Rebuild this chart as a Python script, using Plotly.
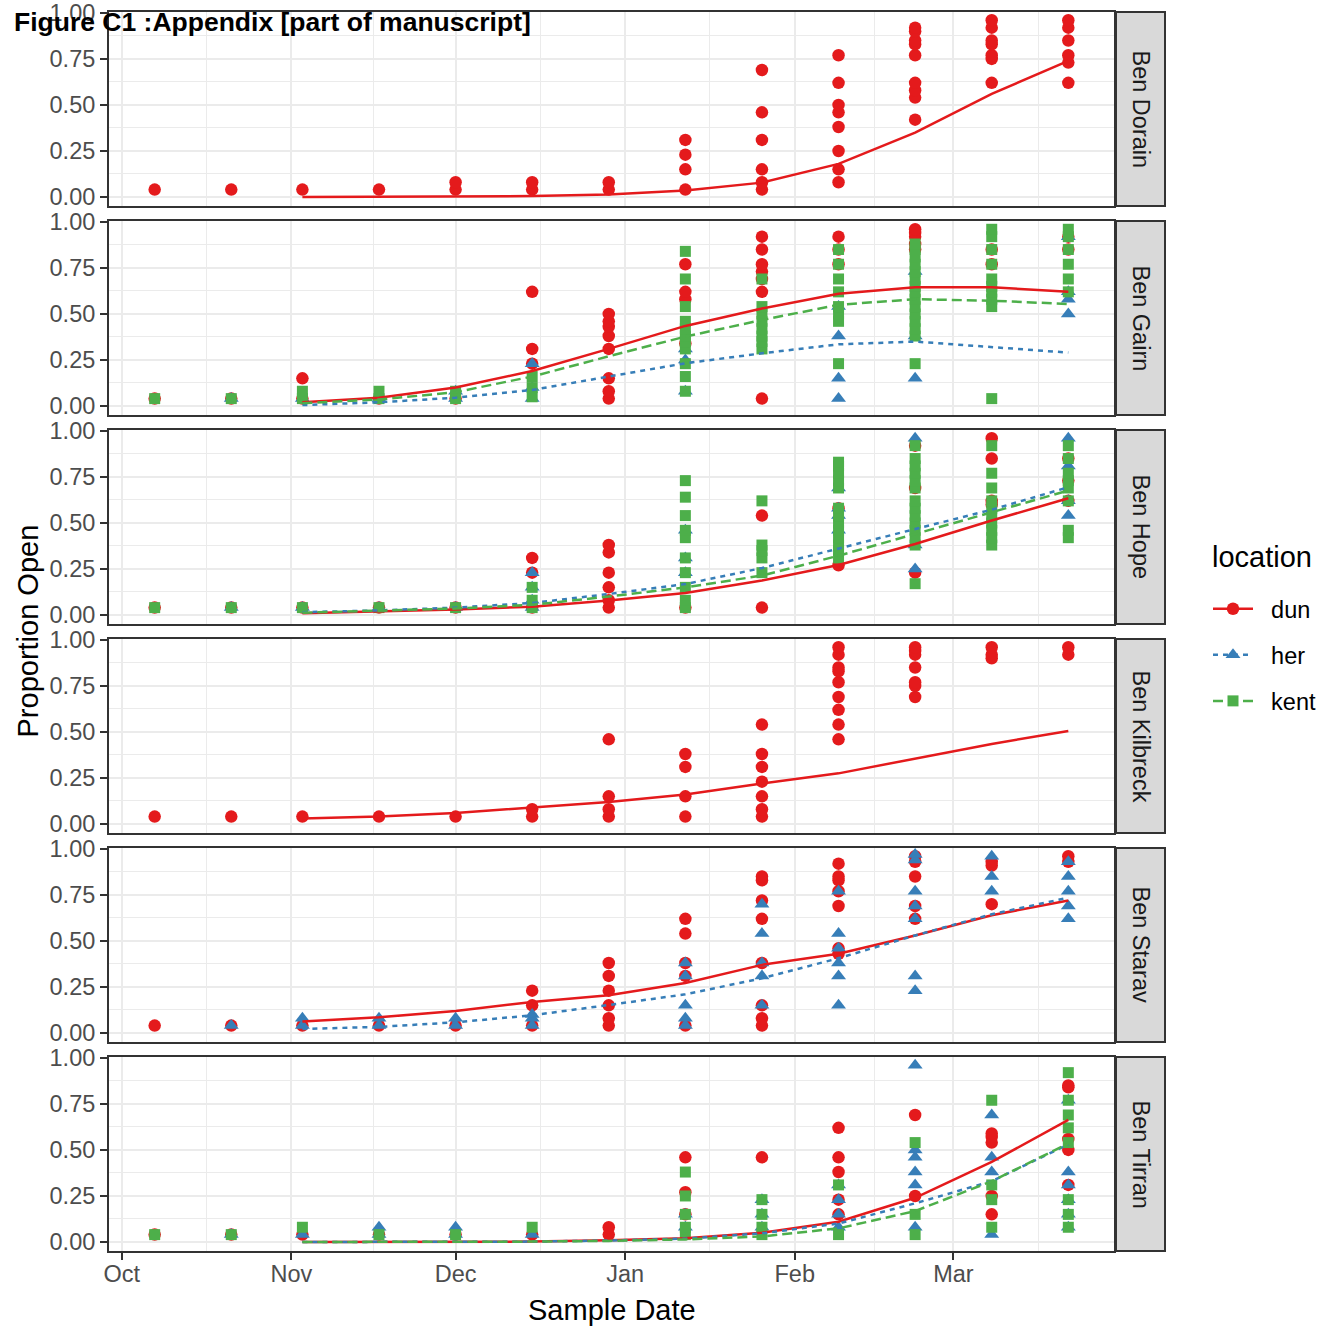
import pandas as pd
import plotly.graph_objects as go
from plotly.subplots import make_subplots

# ---------------- data ----------------
sample_dates = ["2015-10-07", "2015-10-21", "2015-11-03", "2015-11-17", "2015-12-01",
                "2015-12-15", "2015-12-29", "2016-01-12", "2016-01-26", "2016-02-09",
                "2016-02-23", "2016-03-08", "2016-03-22"]
fit_dates = sample_dates[2:]

panels = ["Ben Dorain", "Ben Gairn", "Ben Hope", "Ben Kilbreck", "Ben Starav", "Ben Tirran"]
locations = ["dun", "her", "kent"]

month_ticks = ["2015-10-01", "2015-11-01", "2015-12-01", "2016-01-01", "2016-02-01", "2016-03-01"]
month_labels = ["Oct", "Nov", "Dec", "Jan", "Feb", "Mar"]
y_ticks = [0, 0.25, 0.5, 0.75, 1.0]
y_tick_labels = ["0.00", "0.25", "0.50", "0.75", "1.00"]

# observed proportions, one list per sample date
dorain_dun = [[.04], [.04], [.04], [.04], [.04, .08], [.04, .08], [.04, .08], [.04, .15, .23, .31],
              [.04, .08, .15, .31, .46, .69], [.08, .15, .25, .38, .46, .50, .62, .77],
              [.42, .54, .58, .62, .77, .83, .85, .90, .92], [.62, .75, .77, .83, .85, .92, .96],
              [.62, .73, .77, .85, .92, .96]]

gairn_dun = [[.04], [.04], [.04, .15], [.04], [.04], [.23, .31, .62], [.04, .08, .15, .31, .38, .43, .46, .50],
             [.34, .58, .62, .77], [.04, .62, .69, .73, .77, .85, .92], [.77, .85, .92],
             [.85, .88, .92, .94, .96], [.77, .85], [.85, .92]]
gairn_her = [[], [.04], [.04], [.04], [.04, .08], [.04, .10, .23], [], [.08, .25, .31], [],
             [.04, .15, .38, .54], [.15, .38, .73], [], [.50, .58, .62, .92]]
gairn_kent = [[.04], [.04], [.04, .08], [.04, .08], [.04, .08], [.05, .10, .16], [],
              [.08, .16, .23, .31, .35, .38, .42, .46, .54, .69, .84],
              [.31, .35, .38, .42, .46, .50, .54, .69],
              [.23, .46, .50, .54, .62, .69, .77, .85],
              [.23, .38, .42, .46, .50, .54, .58, .62, .65, .69, .73, .77, .81, .85, .88],
              [.04, .54, .58, .62, .65, .69, .77, .85, .92, .96],
              [.62, .69, .77, .85, .92, .96]]

hope_dun = [[.04], [.04], [.04], [.04], [.04], [.04, .23, .31], [.04, .08, .15, .23, .34, .38], [.04],
            [.04, .54], [.27, .58], [.23, .69, .92], [.60, .62, .85, .96], [.62, .73, .85]]
hope_her = [[], [.04], [.04], [.04], [.04], [.04, .08, .15, .23], [], [.23, .31, .46], [],
            [.46, .54, .58, .69], [.25, .38, .96], [], [.54, .62, .81, .96]]
hope_kent = [[.04], [.04], [.04], [.04], [.04], [.04, .08, .15], [],
             [.04, .08, .15, .23, .31, .42, .46, .54, .64, .73],
             [.23, .31, .35, .38, .62],
             [.31, .35, .38, .42, .46, .50, .54, .58, .69, .73, .77, .81, .83],
             [.17, .38, .42, .46, .50, .54, .58, .62, .69, .73, .77, .81, .85, .92],
             [.38, .42, .46, .50, .54, .58, .62, .69, .77, .92],
             [.42, .46, .62, .69, .73, .77, .85, .92]]

kilbreck_dun = [[.04], [.04], [.04], [.04], [.04], [.04, .08], [.04, .08, .15, .46], [.04, .15, .31, .38],
                [.04, .08, .15, .23, .31, .38, .54], [.46, .54, .62, .69, .77, .83, .85, .92, .96],
                [.69, .75, .77, .85, .92, .94, .96], [.90, .92, .96], [.92, .96]]

starav_dun = [[.04], [.04], [.04], [.04], [.04], [.04, .15, .23], [.04, .08, .15, .23, .31, .38],
              [.04, .31, .38, .54, .62], [.04, .08, .15, .38, .62, .72, .83, .85],
              [.43, .46, .69, .77, .83, .85, .92], [.62, .69, .85, .93, .96], [.70, .91, .93], [.93, .96]]
starav_her = [[], [.04], [.04, .08], [.04, .08], [.04, .08], [.04, .08, .10], [],
              [.04, .08, .15, .31, .38], [.15, .31, .38, .54, .70], [.15, .31, .38, .46, .54, .77],
              [.23, .31, .62, .69, .77, .94, .97], [.77, .85, .96], [.62, .69, .77, .85, .93]]

tirran_dun = [[.04], [.04], [.04], [.04], [.04], [.04], [.04, .08], [.15, .27, .46], [.46],
              [.15, .23, .38, .46, .62], [.25, .69], [.15, .25, .54, .57, .59], [.31, .50, .56, .84, .85]]
tirran_her = [[], [.04], [.04], [.04, .08], [.04, .08], [.04], [], [.08, .15], [.08, .15, .23],
              [.08, .15, .23, .31], [.08, .31, .38, .46, .50, .96], [.04, .38, .46, .69],
              [.08, .15, .23, .31, .38, .77]]
tirran_kent = [[.04], [.04], [.08], [.04], [.04], [.08], [], [.04, .08, .15, .25, .38], [.04, .08, .15, .23],
               [.04, .31], [.04, .15, .54], [.08, .23, .31, .77], [.08, .15, .23, .54, .62, .69, .77, .92]]

# fitted curves (from 3 Nov onwards)
fit_dorain_dun = [0.0, 0.001, 0.002, 0.005, 0.013, 0.035, 0.078, 0.18, 0.35, 0.56, 0.74]
fit_gairn_dun = [0.02, 0.045, 0.10, 0.19, 0.31, 0.435, 0.53, 0.61, 0.645, 0.645, 0.62]
fit_gairn_her = [0.005, 0.02, 0.045, 0.087, 0.16, 0.232, 0.286, 0.335, 0.35, 0.322, 0.29]
fit_gairn_kent = [0.015, 0.035, 0.075, 0.16, 0.27, 0.377, 0.467, 0.55, 0.58, 0.572, 0.554]
fit_hope_dun = [0.01, 0.02, 0.03, 0.045, 0.078, 0.12, 0.187, 0.272, 0.386, 0.513, 0.634]
fit_hope_her = [0.015, 0.025, 0.04, 0.065, 0.114, 0.168, 0.255, 0.359, 0.467, 0.572, 0.694]
fit_hope_kent = [0.012, 0.022, 0.035, 0.055, 0.10, 0.15, 0.214, 0.322, 0.44, 0.558, 0.676]
fit_kilbreck_dun = [0.03, 0.04, 0.06, 0.09, 0.12, 0.16, 0.22, 0.275, 0.355, 0.435, 0.505]
fit_starav_dun = [0.063, 0.085, 0.12, 0.168, 0.205, 0.272, 0.37, 0.43, 0.53, 0.64, 0.72]
fit_starav_her = [0.022, 0.033, 0.058, 0.096, 0.152, 0.21, 0.297, 0.406, 0.53, 0.645, 0.735]
fit_tirran_dun = [0.0, 0.0, 0.001, 0.002, 0.01, 0.02, 0.05, 0.11, 0.24, 0.435, 0.663]
fit_tirran_her = [0.0, 0.0, 0.001, 0.002, 0.008, 0.018, 0.047, 0.10, 0.21, 0.33, 0.53]
fit_tirran_kent = [0.0, 0.0, 0.001, 0.002, 0.006, 0.014, 0.03, 0.074, 0.168, 0.33, 0.535]

points = {
    "Ben Dorain": {"dun": dorain_dun},
    "Ben Gairn": {"dun": gairn_dun, "her": gairn_her, "kent": gairn_kent},
    "Ben Hope": {"dun": hope_dun, "her": hope_her, "kent": hope_kent},
    "Ben Kilbreck": {"dun": kilbreck_dun},
    "Ben Starav": {"dun": starav_dun, "her": starav_her},
    "Ben Tirran": {"dun": tirran_dun, "her": tirran_her, "kent": tirran_kent},
}
fits = {
    "Ben Dorain": {"dun": fit_dorain_dun},
    "Ben Gairn": {"dun": fit_gairn_dun, "her": fit_gairn_her, "kent": fit_gairn_kent},
    "Ben Hope": {"dun": fit_hope_dun, "her": fit_hope_her, "kent": fit_hope_kent},
    "Ben Kilbreck": {"dun": fit_kilbreck_dun},
    "Ben Starav": {"dun": fit_starav_dun, "her": fit_starav_her},
    "Ben Tirran": {"dun": fit_tirran_dun, "her": fit_tirran_her, "kent": fit_tirran_kent},
}

# ---------------- style ----------------
FONT = "Liberation Sans, Arial, Helvetica, sans-serif"
COLORS = {"dun": "#E41A1C", "her": "#377EB8", "kent": "#4DAF4A"}
SYMBOLS = {"dun": "circle", "her": "triangle-up", "kent": "square"}
MSIZE = {"dun": 12.5, "her": 13, "kent": 11}
DASH = {"dun": "solid", "her": "5px,5px", "kent": "10px,5px"}
LW = 2.5

W, H = 1340, 1329
PL, PR, PT, PB = 109, 1114, 12, 1251
PANEL_H, STEP = 194, 209
pw, ph = PR - PL, PB - PT

fig = make_subplots(rows=6, cols=1, shared_xaxes=True, vertical_spacing=0.01)

for i, p in enumerate(panels):
    row = i + 1
    for loc in locations:
        if loc not in points[p]:
            continue
        xs, ys = [], []
        for d, vals in zip(sample_dates, points[p][loc]):
            for v in vals:
                xs.append(d)
                ys.append(v)
        fig.add_trace(go.Scatter(x=xs, y=ys, mode="markers", showlegend=False, hoverinfo="skip",
                                 marker=dict(symbol=SYMBOLS[loc], size=MSIZE[loc], color=COLORS[loc],
                                             line=dict(width=0))), row=row, col=1)
    for loc in locations:
        if loc not in fits[p]:
            continue
        fig.add_trace(go.Scatter(x=fit_dates, y=fits[p][loc], mode="lines", showlegend=False,
                                 hoverinfo="skip",
                                 line=dict(color=COLORS[loc], width=LW, dash=DASH[loc])), row=row, col=1)

# legend entries
for loc in locations:
    fig.add_trace(go.Scatter(x=[None], y=[None], mode="lines+markers", name="\u00a0\u00a0" + loc,
                             legendgroup=loc,
                             marker=dict(symbol=SYMBOLS[loc], size=MSIZE[loc], color=COLORS[loc]),
                             line=dict(color=COLORS[loc], width=LW, dash=DASH[loc])), row=1, col=1)

# x range (ggplot 5% expansion)
d0 = pd.Timestamp(sample_dates[0])
d1 = pd.Timestamp(sample_dates[-1])
span = (d1 - d0) * 0.05
xr = [(d0 - span).strftime("%Y-%m-%d %H:%M:%S"), (d1 + span).strftime("%Y-%m-%d %H:%M:%S")]
mt = pd.to_datetime(month_ticks)
minor_x = [(mt[k] + (mt[k + 1] - mt[k]) / 2).strftime("%Y-%m-%d %H:%M:%S") for k in range(len(mt) - 1)]
minor_x.append((mt[-1] + (pd.Timestamp("2016-04-01") - mt[-1]) / 2).strftime("%Y-%m-%d %H:%M:%S"))

shapes, annotations = [], []
for i, p in enumerate(panels):
    top = PT + STEP * i
    y0 = (PB - (top + PANEL_H)) / ph
    y1 = (PB - top) / ph
    sfx = "" if i == 0 else str(i + 1)
    last = i == len(panels) - 1
    fig.layout["yaxis" + sfx].update(
        domain=[y0, y1], range=[-0.049, 1.005], tickvals=y_ticks, ticktext=y_tick_labels,
        showgrid=True, gridcolor="#EBEBEB", gridwidth=2, zeroline=False, automargin=False,
        minor=dict(tickvals=[0.125, 0.375, 0.625, 0.875], showgrid=True, gridcolor="#EBEBEB", gridwidth=1),
        showline=True, mirror=True, linecolor="#333333", linewidth=2,
        ticks="outside", ticklen=7, tickwidth=2, tickcolor="#333333",
        tickfont=dict(family=FONT, size=23.5, color="#4D4D4D"))
    fig.layout["xaxis" + sfx].update(
        type="date", range=xr, tickvals=month_ticks, ticktext=month_labels,
        showgrid=True, gridcolor="#EBEBEB", gridwidth=2, zeroline=False, automargin=False,
        minor=dict(tickvals=minor_x, showgrid=True, gridcolor="#EBEBEB", gridwidth=1),
        showline=True, mirror=True, linecolor="#333333", linewidth=2,
        ticks="outside" if last else "", ticklen=7, tickwidth=2, tickcolor="#333333",
        showticklabels=last, ticklabelstandoff=-6,
        tickfont=dict(family=FONT, size=23.5, color="#4D4D4D"))
    # facet strip
    shapes.append(dict(type="rect", xref="paper", yref="paper",
                       x0=(1116 - PL) / pw, x1=(1165 - PL) / pw, y0=y0, y1=y1,
                       fillcolor="#D9D9D9", line=dict(color="#333333", width=2), layer="above"))
    annotations.append(dict(text=p, xref="paper", yref="paper", x=(1140.5 - PL) / pw, y=(y0 + y1) / 2,
                            textangle=90, showarrow=False, xanchor="center", yanchor="middle",
                            font=dict(family=FONT, size=23.5, color="#1A1A1A")))

annotations.append(dict(text="Proportion Open", xref="paper", yref="paper", x=(27 - PL) / pw, y=0.5,
                        textangle=-90, showarrow=False, xanchor="center", yanchor="middle",
                        font=dict(family=FONT, size=29, color="#000000")))
annotations.append(dict(text="Sample Date", xref="paper", yref="paper", x=0.5, y=(PB - 1310) / ph,
                        showarrow=False, xanchor="center", yanchor="middle",
                        font=dict(family=FONT, size=29, color="#000000")))
annotations.append(dict(text="<b>Figure C1 :Appendix [part of manuscript]</b>", xref="paper", yref="paper",
                        x=(12 - PL) / pw, y=(PB - 22) / ph, showarrow=False, xanchor="left",
                        yanchor="middle", font=dict(family=FONT, size=26.5, color="#000000")))
annotations.append(dict(text="location", xref="paper", yref="paper",
                        x=(1210 - PL) / pw, y=(PB - 557) / ph, showarrow=False, xanchor="left",
                        yanchor="middle", font=dict(family=FONT, size=29, color="#000000")))

fig.update_layout(
    width=W, height=H, plot_bgcolor="white", paper_bgcolor="white",
    margin=dict(l=PL, r=W - PR, t=PT, b=H - PB, pad=0, autoexpand=False),
    shapes=shapes, annotations=annotations,
    legend=dict(x=(1208 - PL) / pw, y=(PB - 587) / ph, xanchor="left", yanchor="top",
                font=dict(family=FONT, size=23.5, color="#000000"),
                tracegroupgap=12.5, itemwidth=40, bgcolor="rgba(0,0,0,0)"),
    font=dict(family=FONT),
)

fig.write_html("out.html")
